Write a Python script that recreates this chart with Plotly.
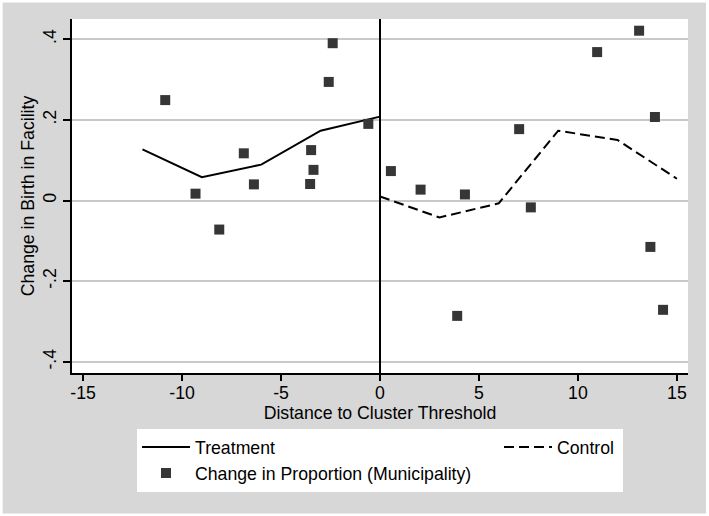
import plotly.graph_objects as go

# ---- data ----
treat_x = [-12, -9, -6, -3, 0]
treat_y = [0.127, 0.058, 0.089, 0.173, 0.208]

control_x = [0, 3, 6, 9, 12, 15]
control_y = [0.010, -0.042, -0.007, 0.173, 0.150, 0.054]

muni_x = [-10.85, -9.32, -8.12, -6.88, -6.37, -3.53, -3.48, -3.36, -2.59, -2.39, -0.59,
          0.55, 2.05, 3.90, 4.29, 7.03, 7.62, 10.97, 13.09, 13.66, 13.89, 14.30]
muni_y = [0.249, 0.017, -0.072, 0.117, 0.040, 0.041, 0.125, 0.076, 0.294, 0.390, 0.190,
          0.073, 0.027, -0.286, 0.015, 0.177, -0.017, 0.368, 0.421, -0.115, 0.207, -0.271]

x_tickvals = [-15, -10, -5, 0, 5, 10, 15]
x_ticktext = ["-15", "-10", "-5", "0", "5", "10", "15"]
y_tickvals = [-0.4, -0.2, 0, 0.2, 0.4]
y_ticktext = ["-.4", "-.2", "0", ".2", ".4"]

FONT = "Liberation Sans, Arial, Helvetica, sans-serif"
FS = 17.7
BG = "#d7d7d7"

fig = go.Figure()

fig.add_trace(go.Scatter(
    x=treat_x, y=treat_y, mode="lines", name="Treatment",
    line=dict(color="black", width=2), legendgroup="a", legendwidth=299,
))
fig.add_trace(go.Scatter(
    x=control_x, y=control_y, mode="lines", name="Control",
    line=dict(color="black", width=2, dash="10px,5px"), legendgroup="b", legendwidth=61,
))
fig.add_trace(go.Scatter(
    x=muni_x, y=muni_y, mode="markers", name="Change in Proportion (Municipality)",
    marker=dict(symbol="square", size=10, color="#363636"), legendgroup="a", legendwidth=299,
))

# vertical reference line at the threshold
fig.add_vline(x=0, line=dict(color="black", width=2))

# thin white outer border
fig.add_shape(type="rect", xref="paper", yref="paper",
              x0=-72 / 617, x1=1 + 20.5 / 617, y0=-143 / 354, y1=1 + 19 / 354,
              line=dict(color="white", width=5), fillcolor="rgba(0,0,0,0)", layer="above")

fig.update_layout(
    width=709, height=516,
    margin=dict(l=72, r=20.5, t=19, b=143, autoexpand=False),
    paper_bgcolor=BG, plot_bgcolor="white",
    font=dict(family=FONT, size=FS, color="black"),
    showlegend=True,
    legend=dict(
        orientation="h", traceorder="grouped", tracegroupgap=0,
        xref="container", yref="container",
        x=137 / 709, xanchor="left", y=1 - 429 / 516, yanchor="top",
        bgcolor="white", borderwidth=0, itemwidth=48,
        font=dict(family=FONT, size=FS, color="black"),
        entrywidthmode="pixels",
    ),
    xaxis=dict(
        range=[-15.56, 15.56], tickvals=x_tickvals, ticktext=x_ticktext,
        ticks="outside", ticklen=6, ticklabelstandoff=-3,
        tickwidth=1.5, tickcolor="black", showline=True, linecolor="black", linewidth=1.5,
        showgrid=False, zeroline=False,
        title=dict(text="Distance to Cluster Threshold", standoff=0,
                   font=dict(family=FONT, size=FS)),
        tickfont=dict(family=FONT, size=FS),
    ),
    yaxis=dict(
        range=[-0.4276, 0.450], tickvals=y_tickvals, ticktext=y_ticktext, tickangle=-90,
        ticks="outside", ticklen=7, tickwidth=1.5, tickcolor="black",
        showline=True, linecolor="black", linewidth=1.5,
        showgrid=True, gridcolor="#c9c9c9", gridwidth=1.5, zeroline=False,
        title=dict(text="Change in Birth in Facility", standoff=1,
                   font=dict(family=FONT, size=FS)),
        tickfont=dict(family=FONT, size=FS),
    ),
)

fig.write_html(
    "out.html",
    config={"displayModeBar": False},
    post_script="document.body.style.margin='0';document.body.style.overflow='hidden';",
)
